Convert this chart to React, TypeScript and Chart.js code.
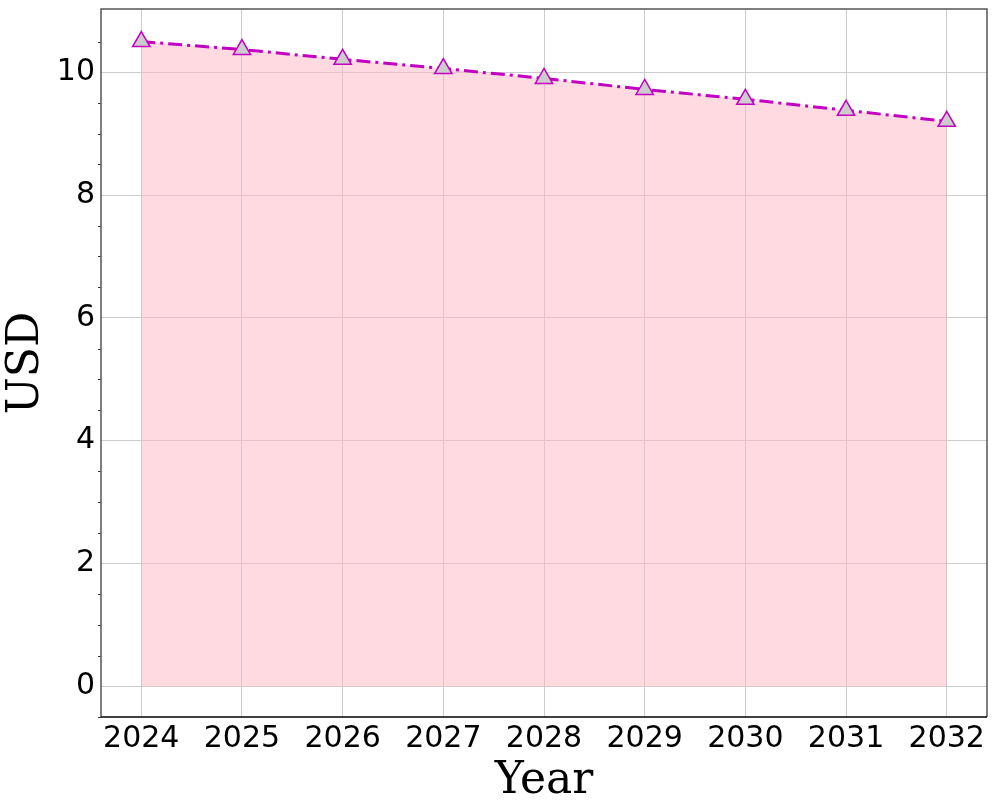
import React, { useEffect, useRef } from "react";
import { Chart, registerables } from "chart.js";

Chart.register(...registerables);

const years = [2024, 2025, 2026, 2027, 2028, 2029, 2030, 2031, 2032];
const usdValues = [10.5, 10.37, 10.21, 10.06, 9.9, 9.72, 9.56, 9.38, 9.2];
const yTickValues = [0, 2, 4, 6, 8, 10];
const yMinorTicks = [-0.5, 0.5, 1, 1.5, 2.5, 3, 3.5, 4.5, 5, 5.5, 6.5, 7, 7.5, 8.5, 9, 9.5, 10.5];

const framePlugin = {
  id: "frame",
  afterDraw(chart: any) {
    const { ctx, chartArea, scales } = chart;
    const { left, top, right, bottom } = chartArea;
    ctx.save();
    ctx.strokeStyle = "#333";
    ctx.lineWidth = 1;
    for (const v of yMinorTicks) {
      const py = Math.round(scales.y.getPixelForValue(v)) + 0.5;
      ctx.beginPath();
      ctx.moveTo(left - 3, py);
      ctx.lineTo(left, py);
      ctx.stroke();
    }
    ctx.lineWidth = 1.5;
    ctx.strokeStyle = "#555";
    ctx.beginPath();
    ctx.moveTo(left, bottom);
    ctx.lineTo(left, top);
    ctx.lineTo(right, top);
    ctx.lineTo(right, bottom);
    ctx.stroke();
    ctx.strokeStyle = "#000";
    ctx.beginPath();
    ctx.moveTo(left, bottom);
    ctx.lineTo(right, bottom);
    ctx.stroke();
    ctx.restore();
  },
};

export default function App() {
  const ref = useRef<HTMLCanvasElement>(null);
  useEffect(() => {
    document.body.style.margin = "0";
    const chart = new Chart(ref.current as HTMLCanvasElement, {
      type: "line",
      data: {
        datasets: [
          {
            data: years.map((y, i) => ({ x: y, y: usdValues[i] })),
            borderColor: "#c200c2",
            borderWidth: 3,
            borderDash: [14, 5, 3, 5],
            fill: "origin",
            backgroundColor: "rgba(255,182,193,0.5)",
            pointStyle: "triangle",
            pointRadius: 10,
            pointBackgroundColor: "#cccccc",
            pointBorderColor: "#c200c2",
            pointBorderWidth: 1.5,
            tension: 0,
            clip: false,
          },
        ],
      },
      options: {
        animation: false,
        responsive: false,
        layout: { autoPadding: false, padding: { top: 9, right: 10, left: 0, bottom: 0 } },
        plugins: { legend: { display: false }, tooltip: { enabled: false } },
        scales: {
          x: {
            type: "linear",
            min: 2023.6,
            max: 2032.4,
            afterBuildTicks: (s: any) => {
              s.ticks = years.map((v) => ({ value: v }));
            },
            afterFit: (s: any) => {
              s.height = 93;
              s.paddingLeft = 0;
              s.paddingRight = 0;
            },
            ticks: {
              color: "#000",
              font: { family: "DejaVu Sans", size: 30 },
              padding: 4,
              maxRotation: 0,
              autoSkip: false,
              callback: (v: any) => String(v),
            },
            grid: { color: "#cccccc", lineWidth: 1, tickLength: 0 },
            border: { display: false },
            title: {
              display: true,
              text: "Year",
              color: "#000",
              font: { family: "DejaVu Serif", size: 44 },
              padding: { top: 0, bottom: 2 },
            },
          },
          y: {
            min: -0.5,
            max: 11.03,
            afterBuildTicks: (s: any) => {
              s.ticks = yTickValues.map((v) => ({ value: v }));
            },
            afterFit: (s: any) => {
              s.width = 101;
              s.paddingTop = 0;
              s.paddingBottom = 0;
            },
            ticks: {
              color: "#000",
              font: { family: "DejaVu Sans", size: 30 },
              padding: 6,
            },
            grid: { color: "#cccccc", lineWidth: 1, tickLength: 0 },
            border: { display: false },
            title: {
              display: true,
              text: "USD",
              color: "#000",
              font: { family: "DejaVu Serif", size: 44 },
              padding: { top: 0, bottom: 0 },
            },
          },
        },
      },
      plugins: [framePlugin],
    } as any);
    return () => chart.destroy();
  }, []);
  return <canvas ref={ref} width={997} height={810} style={{ display: "block" }} />;
}
